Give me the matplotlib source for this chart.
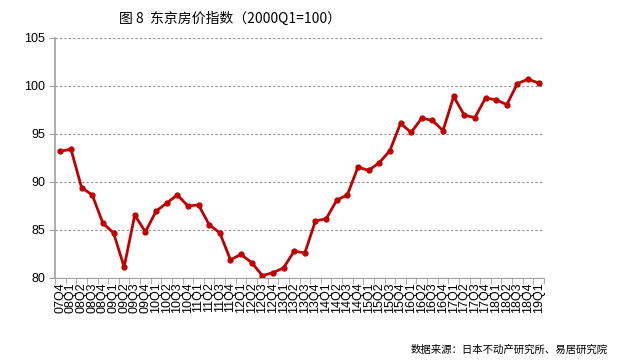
import matplotlib.pyplot as plt
from matplotlib.ticker import FixedLocator

plt.rcParams['font.family'] = ['Noto Sans CJK SC', 'DejaVu Sans']

# Quarter labels and index values (2000Q1=100)
quarters = ["07Q4",
            "08Q1", "08Q2", "08Q3", "08Q4",
            "09Q1", "09Q2", "09Q3", "09Q4",
            "10Q1", "10Q2", "10Q3", "10Q4",
            "11Q1", "11Q2", "11Q3", "11Q4",
            "12Q1", "12Q2", "12Q3", "12Q4",
            "13Q1", "13Q2", "13Q3", "13Q4",
            "14Q1", "14Q2", "14Q3", "14Q4",
            "15Q1", "15Q2", "15Q3", "15Q4",
            "16Q1", "16Q2", "16Q3", "16Q4",
            "17Q1", "17Q2", "17Q3", "17Q4",
            "18Q1", "18Q2", "18Q3", "18Q4",
            "19Q1"]
index = [93.2,
         93.4, 89.4, 88.65, 85.7,
         84.7, 81.15, 86.55, 84.8,
         86.95, 87.8, 88.65, 87.5,
         87.6, 85.55, 84.7, 81.9,
         82.45, 81.6, 80.25, 80.55,
         81.05, 82.8, 82.6, 85.95,
         86.15, 88.1, 88.65, 91.55,
         91.2, 92.0, 93.25, 96.1,
         95.15, 96.65, 96.4, 95.35,
         98.9, 96.95, 96.7, 98.75,
         98.55, 98.05, 100.25, 100.7,
         100.3]

fig = plt.figure(figsize=(6.4, 3.61), dpi=100)
ax = fig.add_axes([0.086, 0.23, 0.764, 0.665])

x = range(len(quarters))
ax.plot(x, index, color="#C00000", linewidth=2, marker="o", markersize=3.5)

ax.set_ylim(80, 105)
ax.set_yticks([80, 85, 90, 95, 100, 105])
ax.set_xlim(-0.5, len(quarters) - 0.5)
ax.set_xticks(list(x))
ax.set_xticklabels(quarters, rotation=90, fontsize=9, family="Liberation Sans")
for lab in ax.get_yticklabels():
    lab.set_family("Liberation Sans")
ax.xaxis.set_minor_locator(FixedLocator([i - 0.5 for i in range(len(quarters) + 1)]))
ax.tick_params(axis="x", which="major", length=0, pad=3)
ax.tick_params(axis="x", which="minor", length=4, color="#A0A0A0")
ax.tick_params(axis="y", length=4, color="#A0A0A0", labelsize=9, pad=3)

for y in [85, 90, 95, 100, 105]:
    ax.axhline(y, color="#909090", linestyle=(0, (2, 2)), linewidth=0.8, zorder=0)

for s in ["top", "right"]:
    ax.spines[s].set_visible(False)
ax.spines["left"].set_color("#A0A0A0")
ax.spines["bottom"].set_color("#A0A0A0")
ax.spines["left"].set_linewidth(1.2)

fig.text(0.36, 0.948, "图 8  东京房价指数（2000Q1=100）", ha="center", va="center", fontsize=10)
fig.text(0.95, 0.03, "数据来源：日本不动产研究所、易居研究院", ha="right", va="center", fontsize=7.5)

fig.savefig("out.png", dpi=100)
